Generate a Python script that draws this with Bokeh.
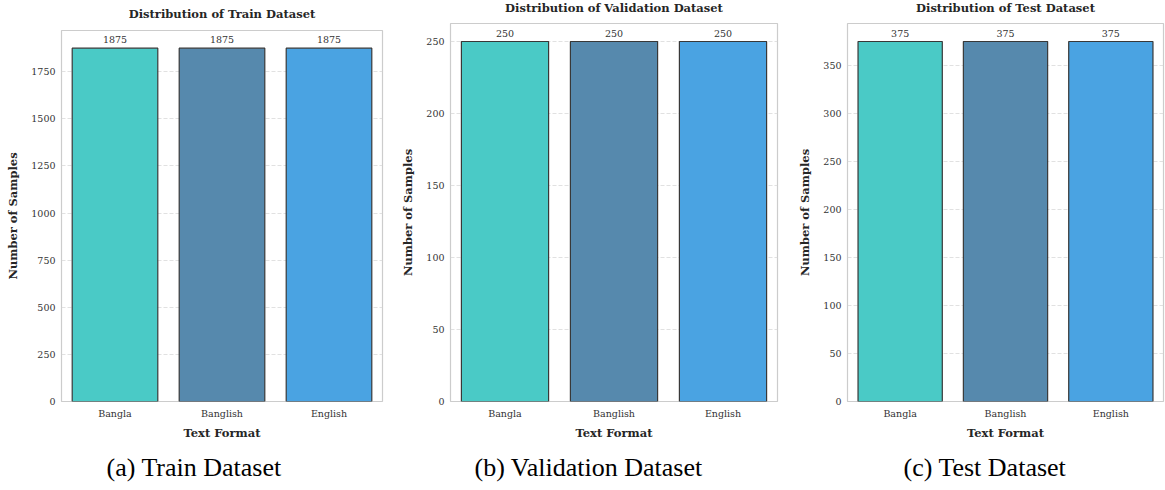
from bokeh.plotting import figure
from bokeh.layouts import row, column
from bokeh.models import ColumnDataSource, FactorRange, Range1d, FixedTicker, Title
from bokeh.core.properties import value
from bokeh.embed import file_html
from bokeh.resources import INLINE

categories = ["Bangla", "Banglish", "English"]
colors = ["#4acac6", "#5689ad", "#4aa3e2"]
train_counts = [1875, 1875, 1875]
val_counts = [250, 250, 250]
test_counts = [375, 375, 375]
train_ticks = [0, 250, 500, 750, 1000, 1250, 1500, 1750]
val_ticks = [0, 50, 100, 150, 200, 250]
test_ticks = [0, 50, 100, 150, 200, 250, 300, 350]

FONT = "DejaVu Serif"
BOTTOM = 89

def make_panel(counts, ticks, title, caption, width, height, left, right, top,
               title_standoff, cap_offset):
    ymax = max(counts) * 1.05
    p = figure(x_range=FactorRange(factors=categories, range_padding=0),
               y_range=Range1d(0, ymax),
               width=width, height=height, output_backend="svg", toolbar_location=None,
               min_border_left=left, min_border_right=right, min_border_top=top,
               min_border_bottom=BOTTOM)
    src = ColumnDataSource(dict(x=categories, y=counts, c=colors,
                                lab=[str(v) for v in counts]))
    p.vbar(x="x", top="y", width=0.8, source=src, fill_color="c", fill_alpha=1.0,
           line_color="#383838", line_width=1.2)
    p.text(x="x", y="y", text="lab", source=src, text_align="center",
           text_baseline="bottom", y_offset=-5, text_font=value(FONT),
           text_font_size="9.5px", text_color="#333333")
    p.title.text = title
    p.title.align = "center"
    p.title.vertical_align = "top"
    p.title.text_font = FONT
    p.title.text_font_size = "11.5px"
    p.title.text_font_style = "bold"
    p.title.text_color = "#262626"
    p.title.standoff = title_standoff
    p.add_layout(Title(text=caption, align="left", offset=cap_offset,
                       vertical_align="bottom", text_font="Liberation Serif",
                       text_font_size="26px", text_font_style="normal",
                       text_color="#000000", standoff=16), "below")
    p.yaxis.ticker = FixedTicker(ticks=ticks)
    for ax in (p.xaxis[0], p.yaxis[0]):
        ax.axis_line_color = None
        ax.major_tick_line_color = None
        ax.minor_tick_line_color = None
        ax.major_tick_out = 0
        ax.major_tick_in = 0
        ax.major_label_text_font = FONT
        ax.major_label_text_font_size = "9.5px"
        ax.major_label_text_color = "#333333"
        ax.axis_label_text_font = FONT
        ax.axis_label_text_font_size = "11.5px"
        ax.axis_label_text_font_style = "bold"
        ax.axis_label_text_color = "#262626"
    p.xaxis.axis_label = "Text Format"
    p.yaxis.axis_label = "Number of Samples"
    p.xaxis.major_label_standoff = 6
    p.yaxis.major_label_standoff = 6
    p.xaxis.axis_label_standoff = 4
    p.yaxis.axis_label_standoff = 8
    p.xgrid.grid_line_color = None
    p.ygrid.grid_line_color = "#d9d9d9"
    p.ygrid.grid_line_dash = "4 2"
    p.ygrid.grid_line_width = 0.8
    p.outline_line_color = "#cccccc"
    p.outline_line_width = 1.2
    return p

p1 = make_panel(train_counts, train_ticks, "Distribution of Train Dataset",
                "(a) Train Dataset", 392, 492, 61, 10, 31, 16, 45)
p2 = make_panel(val_counts, val_ticks, "Distribution of Validation Dataset",
                "(b) Validation Dataset", 398, 497, 58, 13, 29, 14, 24)
p3 = make_panel(test_counts, test_ticks, "Distribution of Test Dataset",
                "(c) Test Dataset", 375, 497, 57, 2, 29, 14, 56)

layout = row(column(p1, styles={"margin-top": "-2px"}),
             column(p2, styles={"margin-top": "-7px"}),
             column(p3, styles={"margin-top": "-7px"}))
open("out.html", "w").write(file_html(layout, INLINE))
